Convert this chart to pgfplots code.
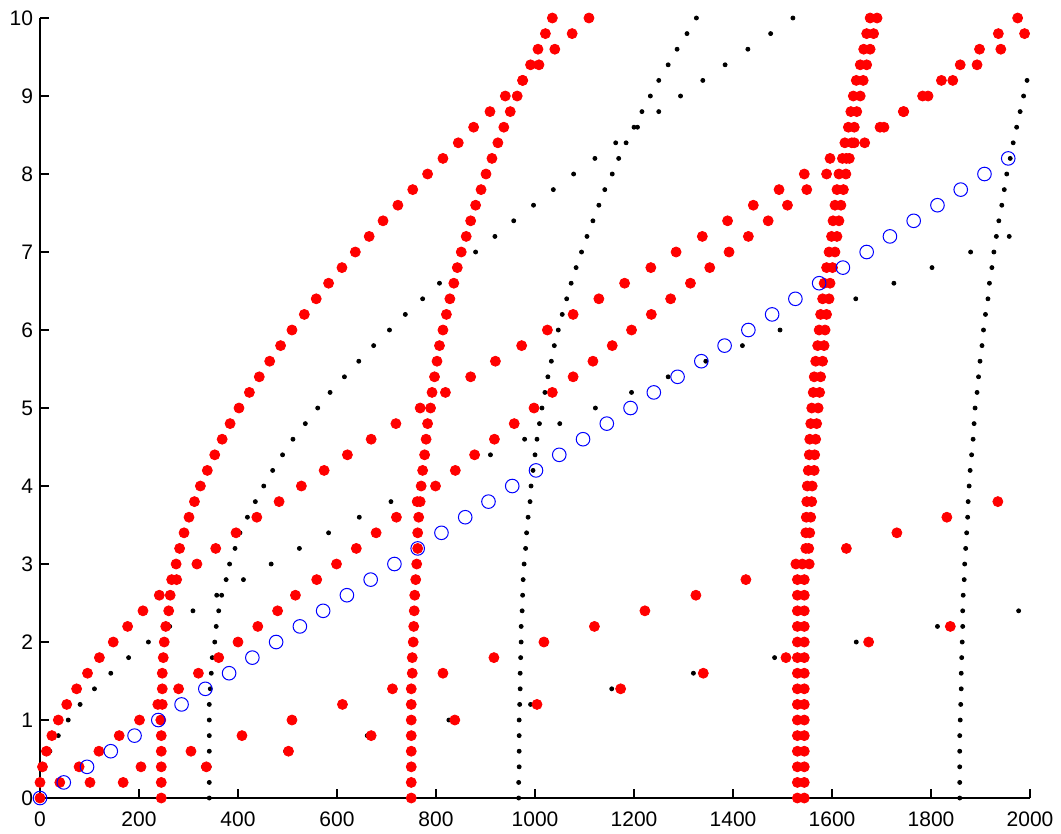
\documentclass[border=0pt]{standalone}
\usepackage{fontspec}
\setmainfont{Liberation Sans}
\usepackage{pgfplots}
\pgfplotsset{compat=1.18}
\begin{document}
\begin{tikzpicture}
\begin{axis}[
 scale only axis, width=495pt, height=390pt,
 xmin=0, xmax=2000, ymin=0, ymax=10,
 axis lines=left, axis line style={-, line width=0.6pt},
 xtick={0,200,...,2000}, ytick={0,1,...,10},
 tick align=inside, major tick length=4.5pt, tick style={line width=0.6pt, black},
 clip=false, scaled ticks=false,
 /pgf/number format/1000 sep={},
 /pgf/number format/assume math mode=true,
 tick label style={font=\fontsize{10.5}{12}\selectfont},
 xticklabel style={yshift=-3.5pt},
]
% black dots
\addplot[only marks, mark=*, mark size=1pt, black] table {
x y
2 0.2
8 0.4
20 0.6
37 0.8
57 1.0
81 1.2
110 1.4
143 1.6
179 1.8
219 2.0
262 2.2
309 2.4
357 2.6
411 2.8
467 3.0
524 3.2
583 3.4
645 3.6
709 3.8
775 4.0
842 4.2
910 4.4
979 4.6
1050 4.8
1122 5.0
1195 5.2
1269 5.4
1345 5.6
1419 5.8
1495 6.0
1572 6.2
1648 6.4
1725 6.6
1802 6.8
1880 7.0
1958 7.2
342 0
342 0.2
342 0.4
342 0.6
342 0.8
342 1.0
342 1.2
344 1.4
346 1.6
348 1.8
353 2.0
356 2.2
361 2.4
367 2.6
376 2.8
383 3.0
394 3.2
404 3.4
419 3.6
435 3.8
452 4.0
470 4.2
490 4.4
511 4.6
536 4.8
561 5.0
586 5.2
615 5.4
644 5.6
674 5.8
706 6.0
738 6.2
773 6.4
807 6.6
843 6.8
880 7.0
919 7.2
957 7.4
997 7.6
1037 7.8
1078 8.0
1121 8.2
1163 8.4
1207 8.6
1250 8.8
1294 9.0
1339 9.2
1384 9.4
1430 9.6
1476 9.8
1521 10
967 0
967 0.2
968 0.4
968 0.6
968 0.8
968 1.0
969 1.2
970 1.4
970 1.6
971 1.8
972 2.0
972 2.2
974 2.4
975 2.6
976 2.8
978 3.0
981 3.2
983 3.4
986 3.6
990 3.8
992 4.0
996 4.2
1000 4.4
1004 4.6
1009 4.8
1014 5.0
1020 5.2
1026 5.4
1033 5.6
1039 5.8
1047 6.0
1055 6.2
1064 6.4
1073 6.6
1083 6.8
1094 7.0
1105 7.2
1117 7.4
1129 7.6
1141 7.8
1156 8.0
1169 8.2
1184 8.4
1200 8.6
1216 8.8
1233 9.0
1250 9.2
1269 9.4
1287 9.6
1307 9.8
1326 10
1858 0
1858 0.2
1858 0.4
1858 0.6
1858 0.8
1859 1.0
1860 1.2
1861 1.4
1861 1.6
1862 1.8
1863 2.0
1864 2.2
1864 2.4
1865 2.6
1867 2.8
1868 3.0
1870 3.2
1872 3.4
1874 3.6
1875 3.8
1877 4.0
1879 4.2
1882 4.4
1885 4.6
1887 4.8
1889 5.0
1893 5.2
1896 5.4
1899 5.6
1903 5.8
1906 6.0
1910 6.2
1915 6.4
1918 6.6
1923 6.8
1927 7.0
1932 7.2
1937 7.4
1943 7.6
1948 7.8
1953 8.0
1960 8.2
1966 8.4
1973 8.6
1980 8.8
1987 9.0
1994 9.2
165 0.2
330 0.4
496 0.6
661 0.8
826 1.0
991 1.2
1155 1.4
1320 1.6
1484 1.8
1649 2.0
1813 2.2
1977 2.4
};
% red filled circles
\addplot[only marks, mark=*, mark size=2.5pt, red, mark options={fill=red, draw=red}] table {
x y
0 0
0 0.2
5 0.4
13 0.6
24 0.8
37 1.0
54 1.2
74 1.4
96 1.6
120 1.8
148 2.0
177 2.2
208 2.4
241 2.6
276 2.8
317 3.0
355 3.2
396 3.4
438 3.6
483 3.8
528 4.0
574 4.2
621 4.4
669 4.6
719 4.8
768 5.0
819 5.2
870 5.4
920 5.6
973 5.8
1025 6.0
1077 6.2
1129 6.4
1181 6.6
1234 6.8
1285 7.0
1338 7.2
1389 7.4
1441 7.6
1493 7.8
1544 8.0
1596 8.2
1645 8.4
1697 8.6
1745 8.8
1794 9.0
1844 9.2
1893 9.4
1941 9.6
1989 9.8
245 0
245 0.2
245 0.4
245 0.6
245 0.8
244 1.0
247 1.2
247 1.4
247 1.6
249 1.8
251 2.0
254 2.2
260 2.4
263 2.6
266 2.8
275 3.0
282 3.2
291 3.4
301 3.6
312 3.8
324 4.0
338 4.2
353 4.4
368 4.6
384 4.8
402 5.0
423 5.2
443 5.4
464 5.6
486 5.8
509 6.0
534 6.2
558 6.4
583 6.6
610 6.8
637 7.0
665 7.2
693 7.4
723 7.6
753 7.8
783 8.0
814 8.2
845 8.4
876 8.6
909 8.8
940 9.0
975 9.2
1008 9.4
1040 9.6
1075 9.8
1109 10
750 0
750 0.2
750 0.4
750 0.6
750 0.8
750 1.0
750 1.2
750 1.4
752 1.6
752 1.8
754 2.0
755 2.2
756 2.4
757 2.6
759 2.8
761 3.0
763 3.2
763 3.4
765 3.6
768 3.8
770 4.0
773 4.2
777 4.4
780 4.6
783 4.8
789 5.0
792 5.2
797 5.4
802 5.6
807 5.8
814 6.0
821 6.2
828 6.4
836 6.6
843 6.8
851 7.0
861 7.2
870 7.4
880 7.6
891 7.8
901 8.0
913 8.2
925 8.4
937 8.6
950 8.8
964 9.0
975 9.2
991 9.4
1006 9.6
1021 9.8
1035 10
40 0.2
79 0.4
119 0.6
160 0.8
201 1.0
238 1.2
280 1.4
320 1.6
361 1.8
400 2.0
440 2.2
480 2.4
516 2.6
559 2.8
599 3.0
639 3.2
679 3.4
720 3.6
762 3.8
799 4.0
839 4.2
878 4.4
918 4.6
958 4.8
998 5.0
1035 5.2
1077 5.4
1117 5.6
1156 5.8
1195 6.0
1235 6.2
1274 6.4
1314 6.6
1353 6.8
1392 7.0
1431 7.2
1471 7.4
1510 7.6
1549 7.8
1589 8.0
1629 8.2
1666 8.4
1705 8.6
1744 8.8
1783 9.0
1821 9.2
1859 9.4
1898 9.6
1936 9.8
1975 10
101 0.2
204 0.4
305 0.6
408 0.8
509 1.0
611 1.2
712 1.4
814 1.6
917 1.8
1018 2.0
1120 2.2
1222 2.4
1325 2.6
1426 2.8
1527 3.0
1629 3.2
1731 3.4
1832 3.6
1935 3.8
168 0.2
336 0.4
502 0.6
669 0.8
838 1.0
1004 1.2
1173 1.4
1340 1.6
1507 1.8
1674 2.0
1839 2.2
1530 0
1530 0.2
1530 0.4
1530 0.6
1530 0.8
1530 1.0
1530 1.2
1530 1.4
1530 1.6
1530 1.8
1530 2.0
1530 2.2
1530 2.4
1530 2.6
1530 2.8
1540 3.0
1547 3.2
1547 3.4
1548 3.6
1549 3.8
1550 4.0
1552 4.2
1554 4.4
1555 4.6
1557 4.8
1559 5.0
1562 5.2
1564 5.4
1567 5.6
1571 5.8
1574 6.0
1577 6.2
1581 6.4
1584 6.6
1589 6.8
1594 7.0
1599 7.2
1602 7.4
1606 7.6
1610 7.8
1614 8.0
1621 8.2
1626 8.4
1633 8.6
1638 8.8
1643 9.0
1649 9.2
1657 9.4
1664 9.6
1670 9.8
1677 10
1544 0
1544 0.2
1544 0.4
1544 0.6
1544 0.8
1544 1.0
1544 1.2
1544 1.4
1544 1.6
1544 1.8
1544 2.0
1544 2.2
1544 2.4
1544 2.6
1544 2.8
1554 3.0
1553 3.2
1555 3.4
1557 3.6
1559 3.8
1560 4.0
1564 4.2
1565 4.4
1567 4.6
1569 4.8
1572 5.0
1575 5.2
1577 5.4
1581 5.6
1584 5.8
1586 6.0
1589 6.2
1594 6.4
1596 6.6
1601 6.8
1606 7.0
1610 7.2
1614 7.4
1618 7.6
1623 7.8
1628 8.0
1635 8.2
1640 8.4
1645 8.6
1650 8.8
1657 9.0
1663 9.2
1670 9.4
1677 9.6
1684 9.8
1691 10
};
% blue open circles
\addplot[only marks, mark=o, mark size=3.4pt, blue, mark options={line width=0.5pt}] table {
x y
0 0
48 0.2
95 0.4
143 0.6
191 0.8
239 1.0
286 1.2
334 1.4
382 1.6
429 1.8
477 2.0
525 2.2
572 2.4
620 2.6
668 2.8
716 3.0
763 3.2
811 3.4
859 3.6
906 3.8
954 4.0
1002 4.2
1049 4.4
1097 4.6
1145 4.8
1193 5.0
1240 5.2
1288 5.4
1336 5.6
1383 5.8
1431 6.0
1479 6.2
1526 6.4
1574 6.6
1622 6.8
1670 7.0
1717 7.2
1765 7.4
1813 7.6
1860 7.8
1908 8.0
1956 8.2
};
\path (rel axis cs:-0.0404,-0.041) rectangle (rel axis cs:1.0313,1.0231);
\end{axis}
\end{tikzpicture}
\end{document}
